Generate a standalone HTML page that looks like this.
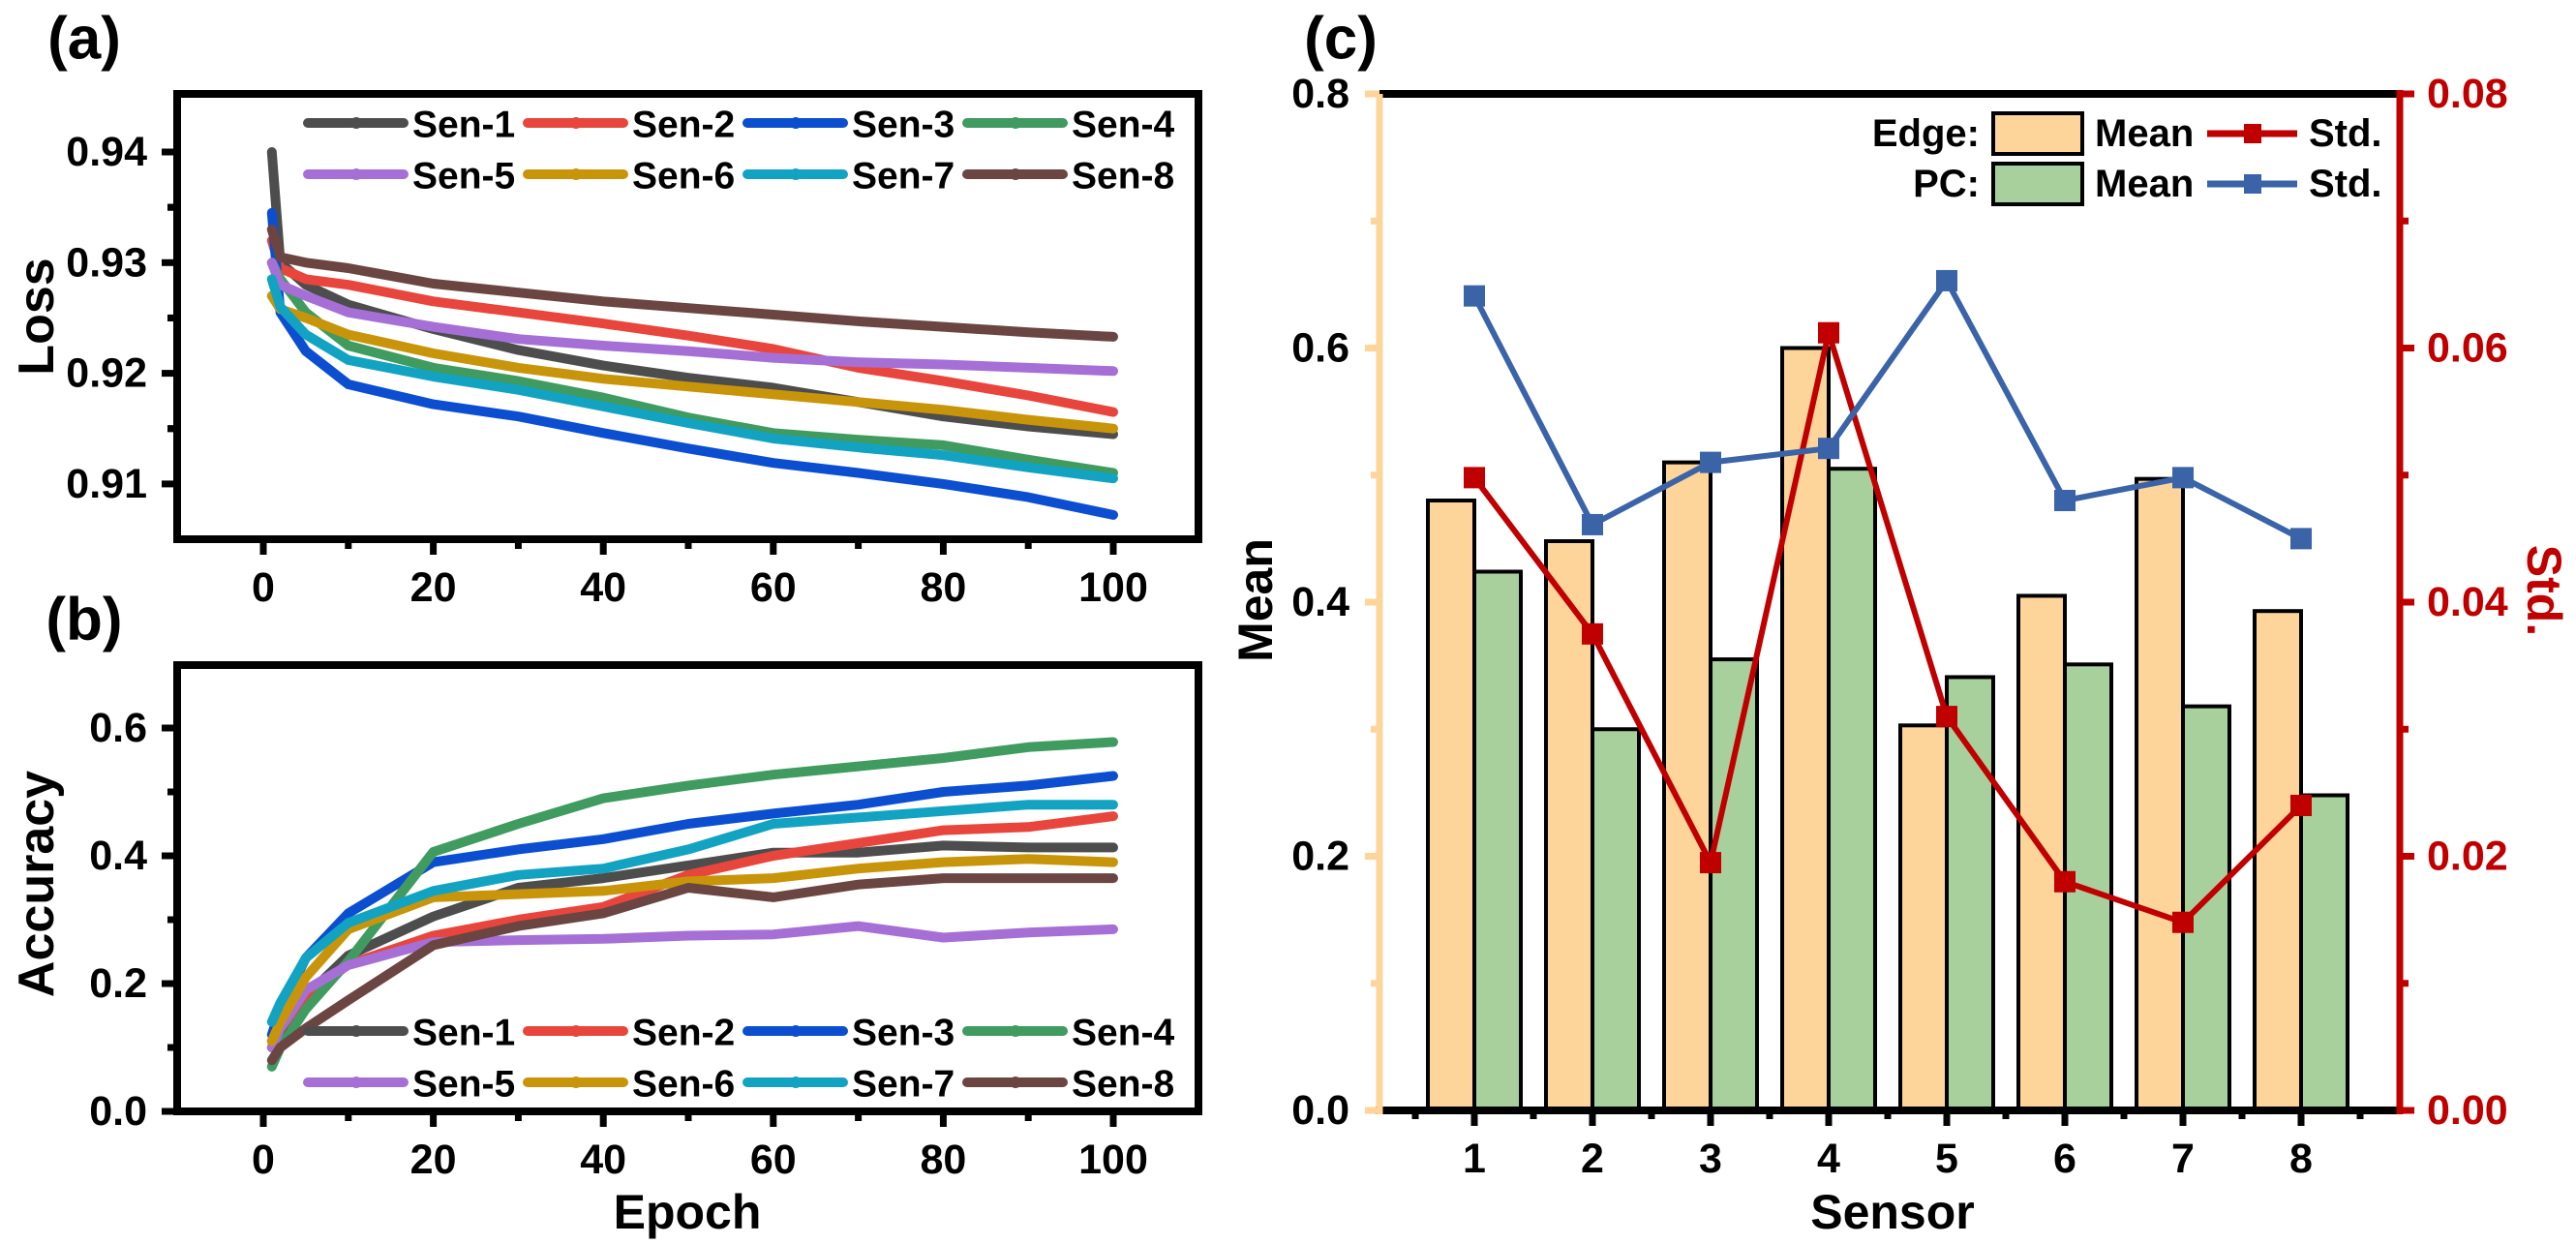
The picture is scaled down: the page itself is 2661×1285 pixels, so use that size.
<!DOCTYPE html>
<html><head><meta charset="utf-8">
<style>
html,body{margin:0;padding:0;background:#fff;}
svg{display:block;font-family:"Liberation Sans",Arial,sans-serif;font-weight:bold;}
</style></head>
<body>
<svg id="fig" xmlns="http://www.w3.org/2000/svg" width="2661" height="1285" viewBox="0 0 2661 1285"></svg>
<script>
// ---------- Data ----------
const seriesNames = ["Sen-1","Sen-2","Sen-3","Sen-4","Sen-5","Sen-6","Sen-7","Sen-8"];
const seriesColors = ["#4d4d4d","#e8453c","#0b4fd0","#3f9b5f","#a66fd6","#c8950a","#13a3c2","#6b4541"];
const epochs = [1,2,5,10,20,30,40,50,60,70,80,90,100];
const loss1 = [0.9400,0.9300,0.9280,0.9262,0.9240,0.9221,0.9207,0.9196,0.9187,0.9174,0.9161,0.9152,0.9145];
const loss2 = [0.9320,0.9295,0.9285,0.9280,0.9265,0.9255,0.9245,0.9234,0.9222,0.9205,0.9193,0.9180,0.9165];
const loss3 = [0.9345,0.9255,0.9220,0.9190,0.9172,0.9161,0.9146,0.9132,0.9119,0.9110,0.9100,0.9088,0.9072];
const loss4 = [0.9300,0.9285,0.9255,0.9225,0.9205,0.9193,0.9178,0.9160,0.9146,0.9140,0.9135,0.9122,0.9110];
const loss5 = [0.9300,0.9280,0.9270,0.9255,0.9242,0.9231,0.9225,0.9220,0.9214,0.9210,0.9208,0.9205,0.9202];
const loss6 = [0.9270,0.9258,0.9250,0.9235,0.9218,0.9205,0.9195,0.9188,0.9181,0.9174,0.9167,0.9158,0.9150];
const loss7 = [0.9285,0.9260,0.9235,0.9212,0.9197,0.9185,0.9170,0.9155,0.9141,0.9133,0.9126,0.9115,0.9105];
const loss8 = [0.9330,0.9305,0.9300,0.9295,0.9281,0.9273,0.9265,0.9259,0.9253,0.9247,0.9242,0.9237,0.9233];
const acc1 = [0.100,0.120,0.180,0.244,0.305,0.350,0.365,0.385,0.405,0.405,0.416,0.413,0.413];
const acc2 = [0.110,0.130,0.180,0.230,0.275,0.300,0.320,0.370,0.400,0.420,0.440,0.445,0.462];
const acc3 = [0.120,0.160,0.240,0.310,0.390,0.410,0.426,0.450,0.466,0.480,0.500,0.510,0.525];
const acc4 = [0.070,0.100,0.160,0.235,0.406,0.450,0.490,0.510,0.527,0.540,0.553,0.570,0.578];
const acc5 = [0.100,0.130,0.190,0.229,0.265,0.268,0.270,0.275,0.277,0.290,0.272,0.280,0.285];
const acc6 = [0.110,0.140,0.210,0.285,0.335,0.340,0.345,0.360,0.365,0.380,0.390,0.395,0.390];
const acc7 = [0.140,0.170,0.240,0.295,0.345,0.370,0.380,0.410,0.450,0.460,0.470,0.480,0.480];
const acc8 = [0.080,0.100,0.130,0.174,0.260,0.290,0.310,0.350,0.335,0.355,0.365,0.365,0.365];
const lossSeries = [loss1,loss2,loss3,loss4,loss5,loss6,loss7,loss8];
const accSeries = [acc1,acc2,acc3,acc4,acc5,acc6,acc7,acc8];
const lossTicks = ["0.91","0.92","0.93","0.94"];
const accTicks = ["0.0","0.2","0.4","0.6"];
const epochTicks = ["0","20","40","60","80","100"];
const sensors = ["1","2","3","4","5","6","7","8"];
const edgeMean = [0.480,0.448,0.510,0.600,0.303,0.405,0.497,0.393];
const pcMean = [0.424,0.300,0.355,0.505,0.341,0.351,0.318,0.248];
const edgeStd = [0.0498,0.0375,0.0195,0.0612,0.0310,0.0180,0.0148,0.0240];
const pcStd = [0.0641,0.0461,0.0510,0.0521,0.0653,0.0480,0.0498,0.0450];
const meanTicks = ["0.0","0.2","0.4","0.6","0.8"];
const stdTicks = ["0.00","0.02","0.04","0.06","0.08"];

// ---------- helpers ----------
const NS = "http://www.w3.org/2000/svg";
const svg = document.getElementById("fig");
function mk(tag, attrs, parent){
  const e = document.createElementNS(NS, tag);
  for (const k in attrs) e.setAttribute(k, attrs[k]);
  (parent||svg).appendChild(e);
  return e;
}
function txt(str, x, y, size, anchor, color, parent, rot){
  const t = mk("text",{x:x,y:y,"font-size":size,"text-anchor":anchor||"middle",fill:color||"#000","dominant-baseline":"central"},parent);
  if (rot) t.setAttribute("transform","rotate("+rot+" "+x+" "+y+")");
  t.textContent = str;
  return t;
}

// ---------- Panel a/b axes ----------
const exX = e => 272 + e*8.78;
const lossY = v => 157 + (0.94 - v)*11430;
const accY = v => 1148 - v*660;

function linePanel(gName, top, bottom, ticks, yFn, series, legY, title, titleY){
  const g = mk("g",{});
  
  
  const L=183, R=1238;
  series.forEach((s,i)=>{
    const pts = epochs.map((e,j)=>exX(e).toFixed(1)+","+yFn(s[j]).toFixed(1)).join(" ");
    const pl = mk("polyline",{points:pts,fill:"none",stroke:seriesColors[i],"stroke-width":10,"stroke-linejoin":"round","stroke-linecap":"round"},g);
    
    
  });
  const fr = mk("rect",{x:L,y:top,width:R-L,height:bottom-top,fill:"none",stroke:"#000","stroke-width":8},g);
  
  
  ticks.forEach(t=>{
    const y = yFn(parseFloat(t));
    mk("line",{x1:L-16,x2:L,y1:y,y2:y,stroke:"#000","stroke-width":7},g);
    const tl = txt(t, 152, y, 43, "end", "#000", g);
    
    
  });
  for (let k=0;k<ticks.length;k++){
    const a=parseFloat(ticks[k]), step=parseFloat(ticks[1])-parseFloat(ticks[0]);
    [a-step/2, a+step/2].forEach(v=>{const y=yFn(v); if(y>top+4&&y<bottom-4) mk("line",{x1:L-10,x2:L,y1:y,y2:y,stroke:"#000","stroke-width":7},g);});
  }
  epochTicks.forEach(t=>{
    const x = exX(parseFloat(t));
    mk("line",{x1:x,x2:x,y1:bottom,y2:bottom+16,stroke:"#000","stroke-width":7},g);
    const tl = txt(t, x, bottom+50, 43, "middle", "#000", g);
    
    
  });
  for (let e=10;e<=100;e+=20){ const x=exX(e); mk("line",{x1:x,x2:x,y1:bottom,y2:bottom+10,stroke:"#000","stroke-width":7},g); }
  seriesNames.forEach((n,i)=>{
    const col=i%4, row=Math.floor(i/4);
    const x0 = 318 + col*227, y0 = legY + row*53;
    const lg = mk("g",{},g);
    
    
    mk("line",{x1:x0,x2:x0+99,y1:y0,y2:y0,stroke:seriesColors[i],"stroke-width":10,"stroke-linecap":"round"},lg);
    mk("circle",{cx:x0+50,cy:y0,r:6,fill:seriesColors[i]},lg);
    txt(n, x0+108, y0+2, 39, "start", "#000", lg);
  });
  const yt = txt(title, 38, titleY, 52, "middle", "#000", g, -90);
  
  
}
linePanel("loss-chart", 97, 557, lossTicks, lossY, lossSeries, 127, "Loss", 327);
linePanel("accuracy-chart", 687, 1148, accTicks, accY, accSeries, 1065, "Accuracy", 913);

let t;
t = txt("(a)", 87, 40, 62, "middle");  
t = txt("(b)", 87, 640, 62, "middle");  
t = txt("Epoch", 710, 1252, 50, "middle");  

// ---------- Panel c ----------
const cg = mk("g",{});


const CL=1425, CR=2479, CT=97, CB=1147;
const sX = i => 1523 + (i-1)*122;
const mY = v => CB - v*1312.5;
const sY = v => CB - v*13125;
const BW = 48;
sensors.forEach((s,i)=>{
  const x = sX(parseFloat(s));
  const b1 = mk("rect",{x:x-BW,y:mY(edgeMean[i]),width:BW,height:CB-mY(edgeMean[i]),fill:"#fdd49a",stroke:"#000","stroke-width":4},cg);
  
  
  const b2 = mk("rect",{x:x,y:mY(pcMean[i]),width:BW,height:CB-mY(pcMean[i]),fill:"#a8d09c",stroke:"#000","stroke-width":4},cg);
  
  
});
function stdLine(vals, color, name){
  const pts = sensors.map((s,i)=>sX(parseFloat(s))+","+sY(vals[i]).toFixed(1)).join(" ");
  const pl = mk("polyline",{points:pts,fill:"none",stroke:color,"stroke-width":6,"stroke-linejoin":"round"},cg);
  
  
  sensors.forEach((s,i)=>{
    const m = mk("rect",{x:sX(parseFloat(s))-11,y:sY(vals[i])-11,width:22,height:22,fill:color},cg);
    
    
  });
}
stdLine(edgeStd, "#c00000", "edge-std");
stdLine(pcStd, "#3a63a8", "pc-std");
mk("line",{x1:CL,x2:CR,y1:CT,y2:CT,stroke:"#000","stroke-width":8},cg);
mk("line",{x1:CL-4,x2:CR,y1:CB,y2:CB,stroke:"#000","stroke-width":8},cg);
const la = mk("line",{x1:CL,x2:CL,y1:CT,y2:CB+4,stroke:"#fdd49a","stroke-width":7},cg);
 
const ra = mk("line",{x1:CR,x2:CR,y1:CT-4,y2:CB+4,stroke:"#c00000","stroke-width":7},cg);
 
meanTicks.forEach(tk=>{
  const y=mY(parseFloat(tk));
  mk("line",{x1:CL-15,x2:CL,y1:y,y2:y,stroke:"#fdd49a","stroke-width":7},cg);
  const l=txt(tk,1394,y,43,"end","#000",cg);  
  const ym=mY(parseFloat(tk)+0.1); if (ym>CT+4) mk("line",{x1:CL-9,x2:CL,y1:ym,y2:ym,stroke:"#fdd49a","stroke-width":7},cg);
});
stdTicks.forEach(tk=>{
  const y=sY(parseFloat(tk));
  mk("line",{x1:CR,x2:CR+15,y1:y,y2:y,stroke:"#c00000","stroke-width":7},cg);
  const l=txt(tk,2507,y,43,"start","#c00000",cg);  
  const ym=sY(parseFloat(tk)+0.01); if (ym>CT+4) mk("line",{x1:CR,x2:CR+9,y1:ym,y2:ym,stroke:"#c00000","stroke-width":7},cg);
});
sensors.forEach(s=>{
  const x=sX(parseFloat(s));
  mk("line",{x1:x,x2:x,y1:CB,y2:CB+16,stroke:"#000","stroke-width":7},cg);
  mk("line",{x1:x-61,x2:x-61,y1:CB,y2:CB+9,stroke:"#000","stroke-width":7},cg);
  const l=txt(s,x,1197,43,"middle","#000",cg);  
});
mk("line",{x1:sX(8)+61,x2:sX(8)+61,y1:CB,y2:CB+9,stroke:"#000","stroke-width":7},cg);
t = txt("Mean", 1297, 620, 50, "middle", "#000", cg, -90);  
t = txt("Std.", 2628, 610, 50, "middle", "#c00000", cg, 90);  
t = txt("Sensor", 1955, 1252, 50, "middle", "#000", cg);  
t = txt("(c)", 1385, 40, 62, "middle");  
const legRows = [["Edge:","#fdd49a","#c00000",138],["PC:","#a8d09c","#3a63a8",190]];
legRows.forEach(r=>{
  const lg = mk("g",{},cg);
  
  
  const y=r[3];
  txt(r[0],2045,y,40,"end","#000",lg);
  mk("rect",{x:2059,y:y-21,width:92,height:42,fill:r[1],stroke:"#000","stroke-width":4},lg);
  txt("Mean",2164,y,40,"start","#000",lg);
  mk("line",{x1:2280,x2:2373,y1:y,y2:y,stroke:r[2],"stroke-width":7},lg);
  mk("rect",{x:2318,y:y-10,width:18,height:20,fill:r[2]},lg);
  txt("Std.",2385,y,40,"start","#000",lg);
});
</script>
</body></html>
